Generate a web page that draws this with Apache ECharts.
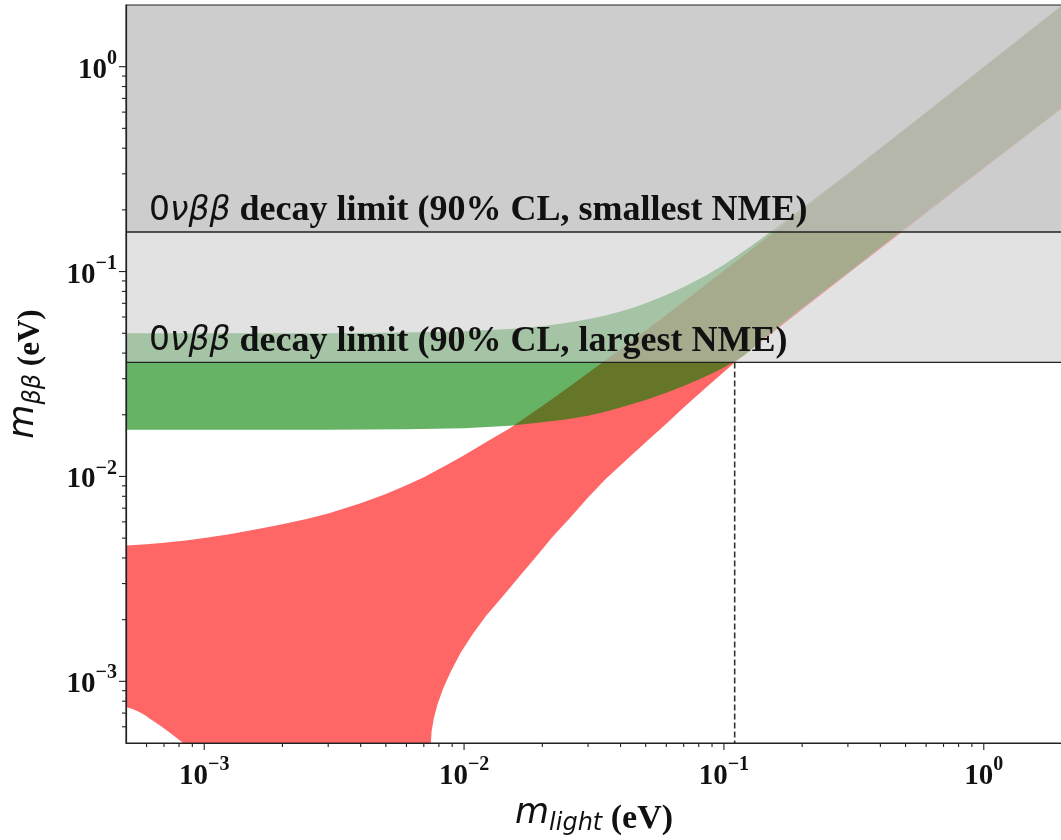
<!DOCTYPE html>
<html>
<head>
<meta charset="utf-8">
<script src="https://cdn.jsdelivr.net/npm/echarts@6/dist/echarts.min.js"></script>
<style>
  html, body { margin: 0; padding: 0; background: #ffffff; }
  #chart { width: 1061px; height: 840px; }
</style>
</head>
<body>
<div id="chart"></div>
<script>
// Effective Majorana mass m_ββ versus the lightest neutrino mass.

// Axis ranges (eV)
const xRange = [5e-4, 2];
const yRange = [5e-4, 2];

// Decade ticks and their exponent labels
const decadeTicks = [1e-3, 1e-2, 1e-1, 1];
const decadeLabels = ['\u22123', '\u22122', '\u22121', '0'];

// Minor ticks (2..9 times each decade inside the range)
const xMinorTicks = [6e-4, 7e-4, 8e-4, 9e-4,
  2e-3, 3e-3, 4e-3, 5e-3, 6e-3, 7e-3, 8e-3, 9e-3,
  2e-2, 3e-2, 4e-2, 5e-2, 6e-2, 7e-2, 8e-2, 9e-2,
  0.2, 0.3, 0.4, 0.5, 0.6, 0.7, 0.8, 0.9];
const yMinorTicks = xMinorTicks.slice();

// Normal ordering band: upper edge, and lower edge (left piece and right piece)
const noUpper = [
  [5e-4, 4.60e-3], [6e-4, 4.67e-3], [7e-4, 4.75e-3], [8.5e-4, 4.87e-3], [1e-3, 5.00e-3],
  [1.25e-3, 5.22e-3], [1.5e-3, 5.45e-3], [2e-3, 5.85e-3], [2.5e-3, 6.22e-3], [3e-3, 6.60e-3],
  [4e-3, 7.40e-3], [5e-3, 8.20e-3], [6e-3, 9.05e-3], [7e-3, 9.90e-3], [8.5e-3, 0.0113],
  [1e-2, 0.0127], [1.25e-2, 0.0150], [1.5e-2, 0.0172], [2e-2, 0.0221], [2.5e-2, 0.0270],
  [3e-2, 0.0320], [4e-2, 0.0418], [5e-2, 0.0515], [7e-2, 0.0712], [0.1, 0.101],
  [0.15, 0.150], [0.2, 0.199], [0.5, 0.495], [1, 0.99], [2, 1.98]
];
const noLowerLeft = [
  [5e-4, 7.5e-4], [5.3e-4, 7.32e-4], [5.6e-4, 7.1e-4], [5.9e-4, 6.85e-4], [6.2e-4, 6.55e-4],
  [6.5e-4, 6.3e-4], [6.8e-4, 6.05e-4], [7.1e-4, 5.82e-4], [7.4e-4, 5.6e-4], [7.7e-4, 5.38e-4],
  [8.0e-4, 5.18e-4], [8.3e-4, 5.0e-4]
];
const noLowerRight = [
  [7.45e-3, 5.0e-4], [7.5e-3, 5.7e-4], [7.65e-3, 6.6e-4], [7.9e-3, 7.7e-4], [8.3e-3, 9.2e-4],
  [8.9e-3, 1.12e-3], [9.7e-3, 1.38e-3], [1.08e-2, 1.70e-3], [1.22e-2, 2.10e-3], [1.41e-2, 2.60e-3],
  [1.65e-2, 3.30e-3], [1.9e-2, 4.08e-3], [2.2e-2, 5.10e-3], [2.55e-2, 6.25e-3], [3.0e-2, 7.90e-3],
  [3.5e-2, 9.70e-3], [4.2e-2, 0.0120], [5e-2, 0.0147], [6e-2, 0.0181], [7e-2, 0.0217],
  [8.5e-2, 0.0270], [0.11, 0.036], [0.15, 0.0490], [0.2, 0.0652], [0.3, 0.0975],
  [0.5, 0.161], [1, 0.318], [2, 0.625]
];

// Inverted ordering band
const ioUpper = [
  [5e-4, 0.050], [3e-3, 0.050], [6e-3, 0.0504], [1e-2, 0.0511], [1.5e-2, 0.0524],
  [2e-2, 0.0541], [2.5e-2, 0.0563], [3e-2, 0.0585], [3.5e-2, 0.0610], [4e-2, 0.0638],
  [4.5e-2, 0.0668], [5e-2, 0.0700], [6e-2, 0.0768], [7e-2, 0.0840], [8.5e-2, 0.0955],
  [0.1, 0.108], [0.125, 0.131], [0.15, 0.155], [0.2, 0.204], [0.3, 0.302],
  [0.5, 0.50], [1, 1.0], [2, 2.0]
];
const ioLower = [
  [5e-4, 0.0169], [3e-3, 0.0169], [6e-3, 0.0170], [1e-2, 0.0172], [1.5e-2, 0.0177],
  [2e-2, 0.0184], [2.5e-2, 0.0190], [3e-2, 0.0198], [3.5e-2, 0.0207], [4e-2, 0.0217],
  [5e-2, 0.0236], [6e-2, 0.0256], [7e-2, 0.0276], [8e-2, 0.0297], [9e-2, 0.0318],
  [0.1, 0.0340], [0.12, 0.0390], [0.15, 0.0500], [0.2, 0.0665], [0.3, 0.099],
  [0.5, 0.164], [1, 0.323], [2, 0.632]
];

// 0νββ limits on m_ββ (largest NME, smallest NME) and the resulting bound on m_light
const limitValues = [0.036, 0.156];
const limitNotes = ['largest NME', 'smallest NME'];
const mLightBound = 0.11;

const serif = 'Liberation Serif, Times New Roman, serif';
const sans = 'DejaVu Sans, sans-serif';

function bandSeries(name, points, fill) {
  return {
    type: 'custom',
    name: name,
    clip: true,
    silent: true,
    data: [[xRange[0], yRange[0]]],
    renderItem: function (params, api) {
      return {
        type: 'polygon',
        shape: { points: points.map(function (p) { return api.coord(p); }) },
        style: { fill: fill }
      };
    }
  };
}

const noBand = noUpper
  .concat(noLowerRight.slice().reverse())
  .concat(noLowerLeft.slice().reverse());
const ioBand = ioUpper.concat(ioLower.slice().reverse());

const spanFills = ['rgba(207,207,207,0.6)', 'rgba(191,191,191,0.6)'];

const tickData = []
  .concat(decadeTicks.map(function (v) { return [v, yRange[0], 0, 1]; }))
  .concat(xMinorTicks.map(function (v) { return [v, yRange[0], 0, 0]; }))
  .concat(decadeTicks.map(function (v) { return [xRange[0], v, 1, 1]; }))
  .concat(yMinorTicks.map(function (v) { return [xRange[0], v, 1, 0]; }));

function decadeLabel(v) {
  for (let i = 0; i < decadeTicks.length; i++) {
    if (Math.abs(Math.log10(v) - Math.log10(decadeTicks[i])) < 1e-6) {
      return '{b|10}{s|' + decadeLabels[i] + '}';
    }
  }
  return '';
}

const tickRich = {
  b: { fontFamily: serif, fontWeight: 'bold', fontSize: 29, color: '#111', lineHeight: 36, verticalAlign: 'bottom' },
  s: { fontFamily: serif, fontWeight: 'bold', fontSize: 20, color: '#111', lineHeight: 20, verticalAlign: 'top' }
};

function nameRich(unitSize) {
  return {
    m: { fontFamily: sans, fontStyle: 'italic', fontSize: 35, color: '#111', lineHeight: 40, verticalAlign: 'top' },
    s: { fontFamily: sans, fontStyle: 'italic', fontSize: 24, color: '#111', lineHeight: 28, verticalAlign: 'bottom' },
    u: { fontFamily: serif, fontWeight: 'bold', fontSize: unitSize, color: '#111', lineHeight: unitSize, verticalAlign: 'bottom' }
  };
}

const chart = echarts.init(document.getElementById('chart'));

chart.setOption({
  animation: false,
  backgroundColor: '#ffffff',
  grid: {
    left: 126, top: 5, width: 936, height: 738,
    outerBoundsMode: 'none',
    containLabel: false,
    show: true, z: 10,
    borderColor: '#222', borderWidth: 1.2,
    backgroundColor: 'rgba(0,0,0,0)'
  },
  xAxis: {
    type: 'log', logBase: 10, min: xRange[0], max: xRange[1],
    z: 10,
    axisLine: { show: true, lineStyle: { color: '#222', width: 1.2 } },
    axisTick: { show: false },
    splitLine: { show: false },
    axisLabel: { margin: 12, formatter: decadeLabel, rich: tickRich },
    name: '{m|m}{s|light}{u| (eV)}',
    nameLocation: 'middle',
    nameGap: 53,
    nameTextStyle: { rich: nameRich(34) }
  },
  yAxis: {
    type: 'log', logBase: 10, min: yRange[0], max: yRange[1],
    z: 10,
    axisLine: { show: true, lineStyle: { color: '#222', width: 1.2 } },
    axisTick: { show: false },
    splitLine: { show: false },
    axisLabel: { margin: 9, formatter: decadeLabel, rich: tickRich },
    name: '{m|m}{s|\u03b2\u03b2}{u| (eV)}',
    nameLocation: 'middle',
    nameRotate: 90,
    nameGap: 80,
    nameTextStyle: { rich: nameRich(31) }
  },
  series: [
    bandSeries('Normal ordering', noBand, 'rgba(255,0,0,0.6)'),
    bandSeries('Inverted ordering', ioBand, 'rgba(0,128,0,0.6)'),
    {
      // excluded regions above each 0νββ limit, with the limit line and its note
      type: 'custom',
      name: 'limits',
      clip: false,
      silent: true,
      data: limitValues.map(function (v) { return [xRange[0], v]; }),
      renderItem: function (params, api) {
        const i = params.dataIndex;
        const bl = api.coord([xRange[0], api.value(1)]);
        const tr = api.coord([xRange[1], yRange[1]]);
        return {
          type: 'group',
          children: [
            {
              type: 'rect',
              shape: { x: bl[0], y: tr[1], width: tr[0] - bl[0], height: bl[1] - tr[1] },
              style: { fill: spanFills[i] }
            },
            {
              type: 'line',
              shape: { x1: bl[0], y1: bl[1], x2: tr[0], y2: bl[1] },
              style: { stroke: '#222', lineWidth: 1.3 }
            },
            {
              type: 'text',
              x: bl[0] + 23,
              y: bl[1] - 1,
              style: {
                text: '{n|0}{g|\u03bd\u03b2\u03b2}{t| decay limit (90% CL, ' + limitNotes[i] + ')}',
                align: 'left',
                verticalAlign: 'bottom',
                rich: {
                  n: { fontFamily: sans, fontSize: 33, fill: '#111', lineHeight: 40 },
                  g: { fontFamily: sans, fontStyle: 'italic', fontSize: 33, fill: '#111', lineHeight: 40 },
                  t: { fontFamily: serif, fontWeight: 'bold', fontSize: 36, fill: '#111', lineHeight: 40 }
                }
              }
            }
          ]
        };
      }
    },
    {
      // bound on the lightest mass from the largest-NME limit
      type: 'custom',
      name: 'm_light bound',
      clip: true,
      silent: true,
      data: [[mLightBound, limitValues[0]]],
      renderItem: function (params, api) {
        const top = api.coord([api.value(0), api.value(1)]);
        const bottom = api.coord([api.value(0), yRange[0]]);
        return {
          type: 'line',
          shape: { x1: top[0], y1: top[1], x2: bottom[0], y2: bottom[1] },
          style: { stroke: '#333', lineWidth: 1.6, lineDash: [6, 3] }
        };
      }
    },
    {
      // major and minor tick marks, drawn outward from the frame
      type: 'custom',
      name: 'ticks',
      clip: false,
      silent: true,
      z: 12,
      dimensions: ['x', 'y', 'axis', 'major'],
      encode: { x: 0, y: 1 },
      data: tickData,
      renderItem: function (params, api) {
        const p = api.coord([api.value(0), api.value(1)]);
        const len = api.value(3) ? 7 : 4;
        const shape = api.value(2) === 0
          ? { x1: p[0], y1: p[1], x2: p[0], y2: p[1] + len }
          : { x1: p[0] - len, y1: p[1], x2: p[0], y2: p[1] };
        return { type: 'line', shape: shape, style: { stroke: '#222', lineWidth: 1.1 } };
      }
    }
  ]
});
</script>
</body>
</html>
